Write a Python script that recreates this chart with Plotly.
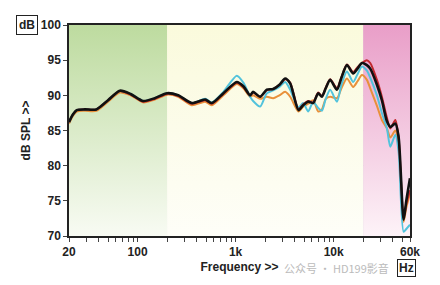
import math
import plotly.graph_objects as go

# ---- data ----
freq = [20, 22, 24, 29, 38, 50, 66, 85, 114, 150, 200, 260, 357, 489, 572, 750,
        1028, 1200, 1406, 1508, 1778, 2080, 2415, 2800, 3200, 3600, 4375, 4887,
        5500, 6180, 6950, 7580, 8300, 9210, 10790, 12000, 13640, 15800, 17500,
        19400, 21800, 23600, 27600, 31000, 34900, 37800, 42500, 45900, 51600,
        55000, 60000]

black = [86.2, 87.3, 87.9, 88.0, 88.0, 89.3, 90.66, 90.2, 89.2, 89.6, 90.3, 90.0,
         88.9, 89.4, 88.9, 90.3, 91.9, 91.3, 90.0, 90.5, 89.8, 90.8, 90.9, 91.5,
         92.4, 91.7, 87.9, 88.6, 89.1, 88.9, 90.3, 89.8, 91.0, 92.2, 90.8, 92.5,
         94.3, 93.1, 93.8, 94.6, 94.3, 93.8, 91.5, 89.3, 86.3, 85.5, 86.0, 84.1,
         72.3, 75.0, 78.2]

red = [86.2, 87.3, 87.9, 88.0, 88.0, 89.3, 90.6, 90.1, 89.1, 89.5, 90.2, 89.9,
       88.8, 89.3, 88.8, 90.2, 91.8, 91.2, 90.0, 90.4, 89.8, 90.7, 90.9, 91.5,
       92.3, 91.8, 88.0, 88.7, 89.2, 89.0, 90.4, 89.9, 91.1, 92.3, 91.0, 92.6,
       94.4, 93.3, 94.0, 94.6, 95.0, 94.6, 92.2, 89.8, 86.8, 85.3, 86.5, 84.0,
       72.5, 74.5, 76.5]

cyan = [86.2, 87.3, 87.9, 88.0, 88.0, 89.3, 90.6, 90.2, 89.2, 89.6, 90.3, 90.0,
        88.9, 89.5, 89.0, 90.5, 92.8, 91.8, 89.8, 89.2, 88.4, 90.3, 90.7, 91.2,
        91.9, 90.8, 88.3, 88.9, 87.7, 89.1, 88.2, 87.8, 89.5, 90.8, 89.1, 91.5,
        93.4, 91.9, 93.0, 94.1, 93.5, 92.5, 90.0, 87.5, 85.3, 82.7, 84.4, 82.0,
        70.6, 71.0, 71.6]

orange = [86.0, 87.1, 87.7, 87.8, 87.8, 89.1, 90.4, 90.0, 89.0, 89.4, 90.1, 89.8,
          88.6, 89.1, 88.6, 90.0, 91.6, 91.0, 89.8, 90.0, 89.5, 89.8, 89.6, 90.0,
          90.5, 89.8, 87.7, 88.4, 88.8, 89.3, 87.7, 88.0, 89.5, 89.8, 89.6, 91.0,
          92.4, 91.2, 92.0, 92.9, 92.2, 91.0, 88.5, 86.5, 85.3, 84.0, 85.0, 83.0,
          72.0, 74.0, 76.0]

# background bands (Hz) and tick labels
band_edges = [20, 200, 20000, 60000]
band_top = ["#bddb9f", "#fafadc", "#e99ec8"]
band_bottom = ["#f8fbf3", "#fefef8", "#fdf3f8"]
y_range = [70, 100]
xtick_labels = {20: "20", 100: "100", 1000: "1k", 10000: "10k", 60000: "60k"}
ytick_vals = [70, 75, 80, 85, 90, 95, 100]

grid_vals = []
for dec in [10, 100, 1000, 10000]:
    for m in range(1, 10):
        v = dec * m
        if 20 <= v <= 60000:
            grid_vals.append(v)
grid_vals.append(60000)
grid_text = [xtick_labels.get(v, "") for v in grid_vals]

fig = go.Figure()

# bands
for i in range(3):
    x0, x1 = band_edges[i], band_edges[i + 1]
    fig.add_trace(go.Scatter(
        x=[x0, x1, x1, x0, x0], y=[y_range[0], y_range[0], y_range[1], y_range[1], y_range[0]],
        mode="lines", line=dict(width=0), fill="toself",
        fillgradient=dict(type="vertical",
                          colorscale=[[0, band_bottom[i]], [1, band_top[i]]]),
        hoverinfo="skip", showlegend=False))

series = [("orange", orange, "#e8903a", 2.0),
          ("cyan", cyan, "#52c3dc", 2.0),
          ("red", red, "#c0282e", 2.0),
          ("black", black, "#111111", 2.6)]
for name, vals, col, w in series:
    fig.add_trace(go.Scatter(x=freq, y=vals, mode="lines", name=name,
                             line=dict(color=col, width=w, shape="spline", smoothing=0.7),
                             showlegend=False))

fig.update_layout(
    width=440, height=285,
    margin=dict(l=69, r=30, t=25, b=49),
    paper_bgcolor="white", plot_bgcolor="white",
    font=dict(family="Liberation Sans, Arial", color="#222"),
    xaxis=dict(type="log", range=[math.log10(20), math.log10(60000)],
               tickmode="array", tickvals=grid_vals, ticktext=grid_text,
               tickfont=dict(size=12, weight="bold", color="#222"),
               showgrid=True, gridcolor="rgba(150,150,150,0.35)", gridwidth=1,
               ticks="outside", ticklen=4, tickcolor="#444",
               showline=True, linecolor="#222", linewidth=1.5, mirror=True,
               zeroline=False,
               title=dict(text="Frequency >>", font=dict(size=12, weight="bold", color="#222"),
                          standoff=4)),
    yaxis=dict(range=y_range, tickvals=ytick_vals,
               tickfont=dict(size=12, weight="bold", color="#222"),
               showgrid=True, gridcolor="rgba(150,150,150,0.35)", gridwidth=1,
               ticks="outside", ticklen=4, tickcolor="#444",
               showline=True, linecolor="#222", linewidth=1.5, mirror=True,
               zeroline=False,
               title=dict(text="dB SPL >>", font=dict(size=12, weight="bold", color="#222"),
                          standoff=8)),
    annotations=[
        dict(text="公众号 · HD199影音", xref="paper", yref="paper", x=0.625, y=-0.15,
             xanchor="left", yanchor="middle", showarrow=False,
             font=dict(family="Noto Sans CJK SC", size=11, color="#bbbbbb")),
        dict(text="<b>Hz</b>", xref="paper", yref="paper", x=0.99, y=-0.15,
             xanchor="center", yanchor="middle", showarrow=False,
             bordercolor="#222", borderwidth=1, borderpad=1, bgcolor="rgba(255,255,255,0.6)",
             font=dict(size=12, color="#222")),
        dict(text="<b>dB</b>", xref="paper", yref="paper", x=-0.123, y=1.0,
             xanchor="center", yanchor="middle", showarrow=False,
             bordercolor="#222", borderwidth=1, borderpad=2, bgcolor="white",
             font=dict(size=12, color="#222")),
    ],
)

fig.write_html("out.html")
